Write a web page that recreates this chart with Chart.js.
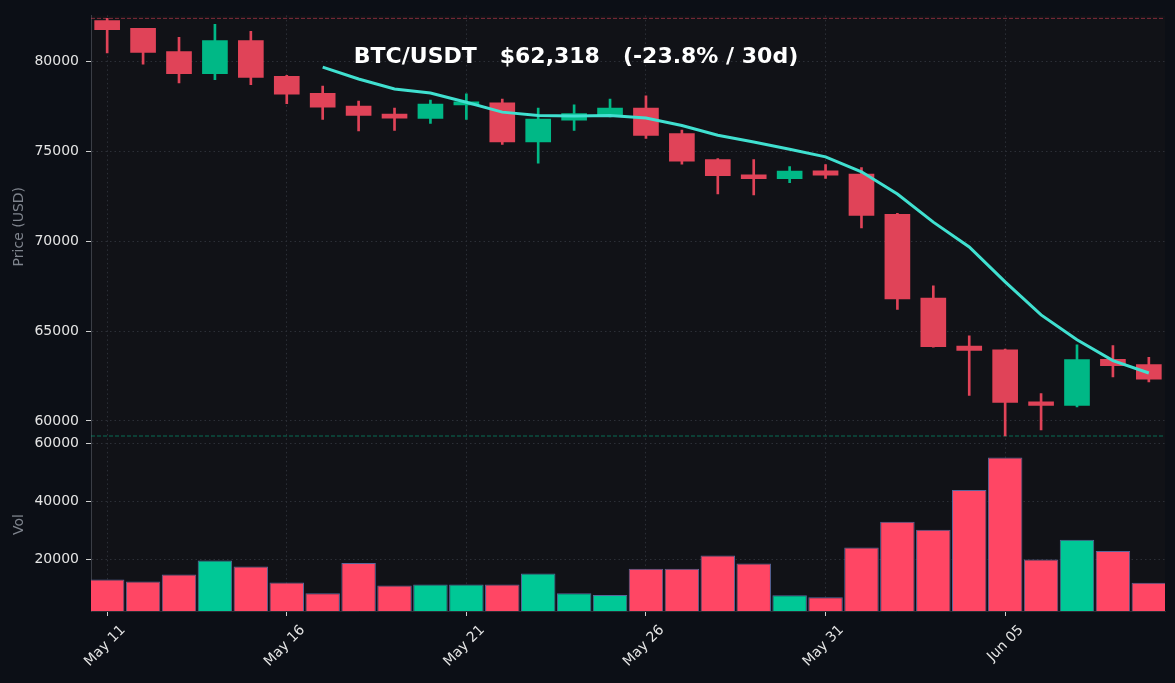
<!DOCTYPE html>
<html>
<head>
<meta charset="utf-8">
<title>BTC/USDT</title>
<script src="https://cdn.jsdelivr.net/npm/chart.js@4.4.1/dist/chart.umd.min.js"></script>
<style>
    html, body { margin: 0; padding: 0; background: #0c0f16; }
    #wrap { width: 1175px; height: 683px; position: relative; }
</style>
</head>
<body>
<div id="wrap"><canvas id="chart"></canvas></div>
<script>
// daily candles, May 11 - Jun 09
const dates = ["May 11","May 12","May 13","May 14","May 15","May 16","May 17","May 18","May 19","May 20",
               "May 21","May 22","May 23","May 24","May 25","May 26","May 27","May 28","May 29","May 30",
               "May 31","Jun 01","Jun 02","Jun 03","Jun 04","Jun 05","Jun 06","Jun 07","Jun 08","Jun 09"];
const opens  = [82268, 81842, 80553, 79314, 81161, 79170, 78230, 77511, 77069, 76825,
                77583, 77694, 75520, 76737, 77030, 77400, 75979, 74541, 73695, 73473,
                73916, 73728, 71499, 66836, 64159, 63960, 61062, 60863, 63423, 63130];
const highs  = [82395, 81842, 81344, 82063, 81676, 79226, 78634, 77788, 77400, 77843,
                78191, 77898, 77400, 77583, 77898, 78081, 76184, 74596, 74541, 74154,
                74264, 74098, 71550, 67516, 64735, 63990, 61527, 64236, 64197, 63534];
const lows   = [80476, 79851, 78800, 78982, 78706, 77655, 76770, 76128, 76162, 76549,
                76770, 75387, 74336, 76162, 76919, 75719, 74281, 72622, 72567, 73252,
                73490, 70741, 66206, 64100, 61416, 59160, 59497, 60785, 62445, 62168];
const closes = [81770, 80498, 79314, 81161, 79115, 78175, 77456, 76991, 76847, 77622,
                77749, 75520, 76792, 77102, 77400, 75885, 74447, 73640, 73473, 73894,
                73673, 71427, 66781, 64126, 63921, 61029, 60863, 63407, 63075, 62318];
// 7-day moving average
const ma7 = [null, null, null, null, null, null, 79685, 79021, 78468, 78247,
             77732, 77179, 76991, 76958, 76991, 76847, 76438, 75889, 75520, 75111,
             74690, 73861, 72622, 71057, 69674, 67738, 65896, 64513, 63352, 62666];
const volumes = [13160, 12480, 14870, 19660, 17610, 12140, 8380, 18840, 11110, 11450,
                 11450, 11450, 15210, 8380, 7800, 16790, 16790, 21370, 18630, 7690,
                 7010, 24100, 32990, 30260, 43930, 55080, 20000, 26840, 22940, 12000];
const priceTicks = [60000, 65000, 70000, 75000, 80000];
const volTicks = [20000, 40000, 60000];
const dateTicks = [0, 5, 10, 15, 20, 25];   // positions in dates[]
const titleText = "BTC/USDT   $62,318   (-23.8% / 30d)";

const UP = '#00b886', DOWN = '#e04358';
const VOL_UP = '#00c896', VOL_DOWN = '#ff4664';
const GRID = '#2c2f37';
const TICK_TXT = '#e4e4e4';
const AXIS_TXT = '#7f848d';
const FONT = 'DejaVu Sans';

let isUp = closes.map((c, i) => c >= opens[i]);

const bgPlugin = {
    id: 'bg',
    beforeDraw(chart) {
        const {ctx, chartArea: a} = chart;
        ctx.save();
        ctx.fillStyle = '#0c0f16';
        ctx.fillRect(0, 0, chart.width, chart.height);
        ctx.fillStyle = '#111217';
        ctx.fillRect(a.left, a.top, a.right - a.left, a.bottom - a.top);
        ctx.restore();
    }
};

// dashed lines at period high / low
const extremesPlugin = {
    id: 'extremes',
    beforeDatasetsDraw(chart) {
        const {ctx, chartArea: a} = chart;
        const y = chart.scales.y;
        const hi = y.getPixelForValue(Math.max(...highs));
        const lo = y.getPixelForValue(Math.min(...lows));
        ctx.save();
        ctx.lineWidth = 1;
        ctx.setLineDash([4, 2]);
        ctx.strokeStyle = 'rgba(224,67,88,0.55)';
        ctx.beginPath(); ctx.moveTo(a.left, hi); ctx.lineTo(a.right, hi); ctx.stroke();
        ctx.strokeStyle = 'rgba(0,184,134,0.55)';
        ctx.beginPath(); ctx.moveTo(a.left, lo); ctx.lineTo(a.right, lo); ctx.stroke();
        ctx.restore();
    }
};

const titlePlugin = {
    id: 'titleText',
    afterDraw(chart) {
        const ctx = chart.ctx;
        ctx.save();
        ctx.font = 'bold 22px "' + FONT + '"';
        ctx.fillStyle = '#ffffff';
        ctx.textAlign = 'center';
        ctx.textBaseline = 'middle';
        ctx.fillText(titleText, 576, 57);
        ctx.restore();
    }
};

function yTickOpts() {
    return {
        color: TICK_TXT,
        font: { size: 14, family: FONT },
        padding: 7,
        callback: v => String(v)
    };
}

let data = {
    labels: dates.map((d, i) => i),
    datasets: [
        {
            type: 'line',
            label: 'MA7',
            data: ma7,
            yAxisID: 'y',
            borderColor: '#40e0d0',
            borderWidth: 3,
            pointRadius: 0,
            tension: 0,
            order: 0
        },
        {
            type: 'bar',
            label: 'body',
            data: opens.map((o, i) => [o, closes[i]]),
            yAxisID: 'y',
            backgroundColor: isUp.map(u => u ? UP : DOWN),
            barThickness: 25,
            minBarLength: 3,
            grouped: false,
            order: 1
        },
        {
            type: 'bar',
            label: 'wick',
            data: lows.map((l, i) => [l, highs[i]]),
            yAxisID: 'y',
            backgroundColor: isUp.map(u => u ? UP : DOWN),
            barThickness: 2,
            grouped: false,
            order: 2
        },
        {
            type: 'bar',
            label: 'volume',
            data: volumes,
            yAxisID: 'yv',
            backgroundColor: isUp.map(u => u ? VOL_UP : VOL_DOWN),
            borderColor: '#5a679c',
            borderWidth: 1,
            barPercentage: 0.96,
            categoryPercentage: 1.0,
            grouped: false,
            order: 3
        }
    ]
};

let options = {
    responsive: true,
    maintainAspectRatio: false,
    animation: false,
    events: [],
    layout: { padding: { left: 11, right: 10, top: 12, bottom: 0 } },
    plugins: {
        legend: { display: false },
        tooltip: { enabled: false }
    },
    scales: {
        x: {
            type: 'linear',
            min: -0.45,
            max: 29.45,
            offset: false,
            afterFit: s => { s.height = 72; },
            afterBuildTicks: s => { s.ticks = dateTicks.map(v => ({ value: v })); },
            grid: {
                offset: false,
                color: GRID,
                tickColor: '#cfcfcf',
                tickLength: 5
            },
            border: { color: '#2a2d35', dash: [1.5, 3] },
            ticks: {
                maxRotation: 45,
                minRotation: 45,
                color: TICK_TXT,
                font: { size: 14, family: FONT },
                labelOffset: 16,
                padding: 6,
                callback: v => dates[v]
            }
        },
        yv: {
            position: 'left',
            stack: 'pane',
            stackWeight: 174,
            min: 2300,
            max: 61800,
            afterFit: s => { s.width = 80; },
            afterBuildTicks: s => { s.ticks = volTicks.map(v => ({ value: v })); },
            grid: { color: GRID, tickColor: '#cfcfcf', tickLength: 5 },
            border: { color: '#3a3d45', dash: [1.5, 3] },
            ticks: yTickOpts(),
            title: {
                display: true,
                text: 'Vol',
                color: AXIS_TXT,
                font: { size: 14, family: FONT },
                padding: 0
            }
        },
        y: {
            position: 'left',
            stack: 'pane',
            stackWeight: 425,
            min: 59050,
            max: 82560,
            afterFit: s => { s.width = 80; },
            afterBuildTicks: s => { s.ticks = priceTicks.map(v => ({ value: v })); },
            grid: { color: GRID, tickColor: '#cfcfcf', tickLength: 5 },
            border: { color: '#3a3d45', dash: [1.5, 3] },
            ticks: yTickOpts(),
            title: {
                display: true,
                text: 'Price (USD)',
                color: AXIS_TXT,
                font: { size: 14, family: FONT },
                padding: 0
            }
        }
    }
};

let ctx = document.getElementById('chart').getContext('2d');
const chart = new Chart(ctx, {
    type: 'bar',
    data: data,
    options: options,
    plugins: [bgPlugin, extremesPlugin, titlePlugin]
});
</script>
</body>
</html>
